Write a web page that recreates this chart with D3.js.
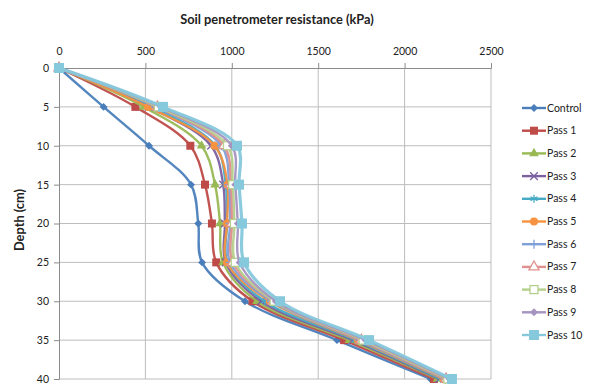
<!DOCTYPE html>
<html>
<head>
<meta charset="utf-8">
<script src="https://cdn.jsdelivr.net/npm/d3@7"></script>
<style>
body { margin: 0; background: #fff; }
text { font-family: Lato, "Open Sans", sans-serif; fill: #222; }
</style>
</head>
<body>
<script>
let depths = [0, 5, 10, 15, 20, 25, 30, 35, 40];
let seriesNames = ["Control", "Pass 1", "Pass 2", "Pass 3", "Pass 4", "Pass 5", "Pass 6", "Pass 7", "Pass 8", "Pass 9", "Pass 10"];
let control = [0, 258, 521, 764, 806, 828, 1076, 1609, 2150];
let pass1  = [0, 442, 760, 845, 885, 910, 1120, 1650, 2170];
let pass2  = [0, 490, 825, 903, 932, 949, 1146, 1680, 2190];
let pass3  = [0, 520, 880, 950, 960, 965, 1170, 1700, 2200];
let pass4  = [0, 540, 905, 965, 972, 975, 1190, 1715, 2210];
let pass5  = [0, 515, 900, 975, 972, 972, 1220, 1730, 2225];
let pass6  = [0, 560, 940, 985, 990, 990, 1230, 1740, 2235];
let pass7  = [0, 570, 955, 995, 1000, 1005, 1240, 1750, 2240];
let pass8  = [0, 575, 975, 1005, 1015, 1020, 1245, 1760, 2250];
let pass9  = [0, 590, 1000, 1020, 1035, 1045, 1255, 1775, 2260];
let pass10 = [0, 602, 1030, 1042, 1059, 1071, 1279, 1794, 2274];
let xTicks = [0, 500, 1000, 1500, 2000, 2500];
let yTicks = [0, 5, 10, 15, 20, 25, 30, 35, 40];

let allSeries = [control, pass1, pass2, pass3, pass4, pass5, pass6, pass7, pass8, pass9, pass10];
let colors = ["#4a7ebb", "#be4b48", "#98b954", "#7d60a0", "#46aac5", "#f69240", "#7f9fd8", "#e0908e", "#b5d08c", "#a593c0", "#86c8dc"];
let shapes = ["diamond", "square", "triangle", "x", "star", "circle", "plus", "triangleOpen", "squareOpen", "diamond", "squareBig"];

let w = 594, h = 385;
let padL = 59, padR = 491, padT = 68, padB = 379;

let svg = d3.select("body").append("svg").attr("width", w).attr("height", h);

let x = d3.scaleLinear().domain([0, 2500]).range([padL, padR]);
let y = d3.scaleLinear().domain([0, 40]).range([padT, padB]);

// gridlines
svg.append("g").selectAll("line").data(xTicks.slice(1)).enter().append("line")
  .attr("x1", d => x(d)).attr("x2", d => x(d)).attr("y1", padT).attr("y2", padB)
  .attr("stroke", "#bdbdbd").attr("stroke-width", 1);
svg.append("g").selectAll("line").data(yTicks.slice(1)).enter().append("line")
  .attr("x1", padL).attr("x2", padR).attr("y1", d => y(d)).attr("y2", d => y(d))
  .attr("stroke", "#bdbdbd").attr("stroke-width", 1);

// axes
let xAxis = svg.append("g").attr("transform", "translate(0," + padT + ")")
  .call(d3.axisTop(x).tickValues(xTicks).tickFormat(d3.format("d")).tickSize(5).tickPadding(8));
let yAxis = svg.append("g").attr("transform", "translate(" + padL + ",0)")
  .call(d3.axisLeft(y).tickValues(yTicks).tickFormat(d3.format("d")).tickSize(5).tickPadding(5));
[xAxis, yAxis].forEach(a => {
  a.select(".domain").attr("stroke", "#8c8c8c");
  a.selectAll(".tick line").attr("stroke", "#8c8c8c");
  a.selectAll(".tick text").attr("font-size", 10.5).attr("fill", "#333").style("font-family", "Lato, sans-serif");
});

// title + y label
svg.append("text").attr("x", 277).attr("y", 24).attr("text-anchor", "middle")
  .attr("font-size", 12.8).attr("font-weight", "bold").text("Soil penetrometer resistance (kPa)");
svg.append("text").attr("transform", "translate(24,220) rotate(-90)").attr("text-anchor", "middle")
  .attr("font-size", 12.8).attr("font-weight", "bold").text("Depth (cm)");

function marker(g, shape, color, cx, cy) {
  let s = 3.5;
  if (shape == "diamond") g.append("path").attr("d", d3.symbol(d3.symbolDiamond2, 40)()).attr("transform", `translate(${cx},${cy})`).attr("fill", color);
  else if (shape == "square") g.append("rect").attr("x", cx - 4).attr("y", cy - 4).attr("width", 8).attr("height", 8).attr("fill", color);
  else if (shape == "squareBig") g.append("rect").attr("x", cx - 5).attr("y", cy - 5).attr("width", 10).attr("height", 10).attr("fill", color);
  else if (shape == "triangle") g.append("path").attr("d", d3.symbol(d3.symbolTriangle, 40)()).attr("transform", `translate(${cx},${cy})`).attr("fill", color);
  else if (shape == "triangleOpen") g.append("path").attr("d", d3.symbol(d3.symbolTriangle, 45)()).attr("transform", `translate(${cx},${cy})`).attr("fill", "#fff").attr("stroke", color).attr("stroke-width", 1.3);
  else if (shape == "squareOpen") g.append("rect").attr("x", cx - 4).attr("y", cy - 4).attr("width", 8).attr("height", 8).attr("fill", "#fff").attr("stroke", color).attr("stroke-width", 1.3);
  else if (shape == "circle") g.append("circle").attr("cx", cx).attr("cy", cy).attr("r", 4).attr("fill", color);
  else if (shape == "x") g.append("path").attr("d", d3.symbol(d3.symbolTimes, 40)()).attr("transform", `translate(${cx},${cy})`).attr("fill", "none").attr("stroke", color).attr("stroke-width", 1.3);
  else if (shape == "plus") g.append("path").attr("d", `M${cx - s - 1},${cy}H${cx + s + 1}M${cx},${cy - s - 1}V${cy + s + 1}`).attr("stroke", color).attr("stroke-width", 1.3);
  else if (shape == "star") g.append("path").attr("d", d3.symbol(d3.symbolAsterisk, 45)()).attr("transform", `translate(${cx},${cy})`).attr("fill", "none").attr("stroke", color).attr("stroke-width", 1.3);
}

let line = d3.line().x(d => x(d[0])).y(d => y(d[1])).curve(d3.curveCatmullRom.alpha(0.5));

allSeries.forEach((vals, i) => {
  let pts = vals.map((v, j) => [v, depths[j]]);
  let g = svg.append("g");
  g.append("path").datum(pts).attr("d", line).attr("fill", "none")
    .attr("stroke", colors[i]).attr("stroke-width", i == 10 ? 3.2 : 2.4).attr("stroke-opacity", 0.95);
  pts.forEach(p => marker(g, shapes[i], colors[i], x(p[0]), y(p[1])));
});

// legend
let lg = svg.append("g");
seriesNames.forEach((name, i) => {
  let ly = 108 + i * 22.7;
  lg.append("line").attr("x1", 522).attr("x2", 546).attr("y1", ly).attr("y2", ly)
    .attr("stroke", colors[i]).attr("stroke-width", 2.4);
  marker(lg, shapes[i], colors[i], 534, ly);
  lg.append("text").attr("x", 547).attr("y", ly + 3.5).attr("font-size", 10.5).text(name);
});
</script>
</body>
</html>
